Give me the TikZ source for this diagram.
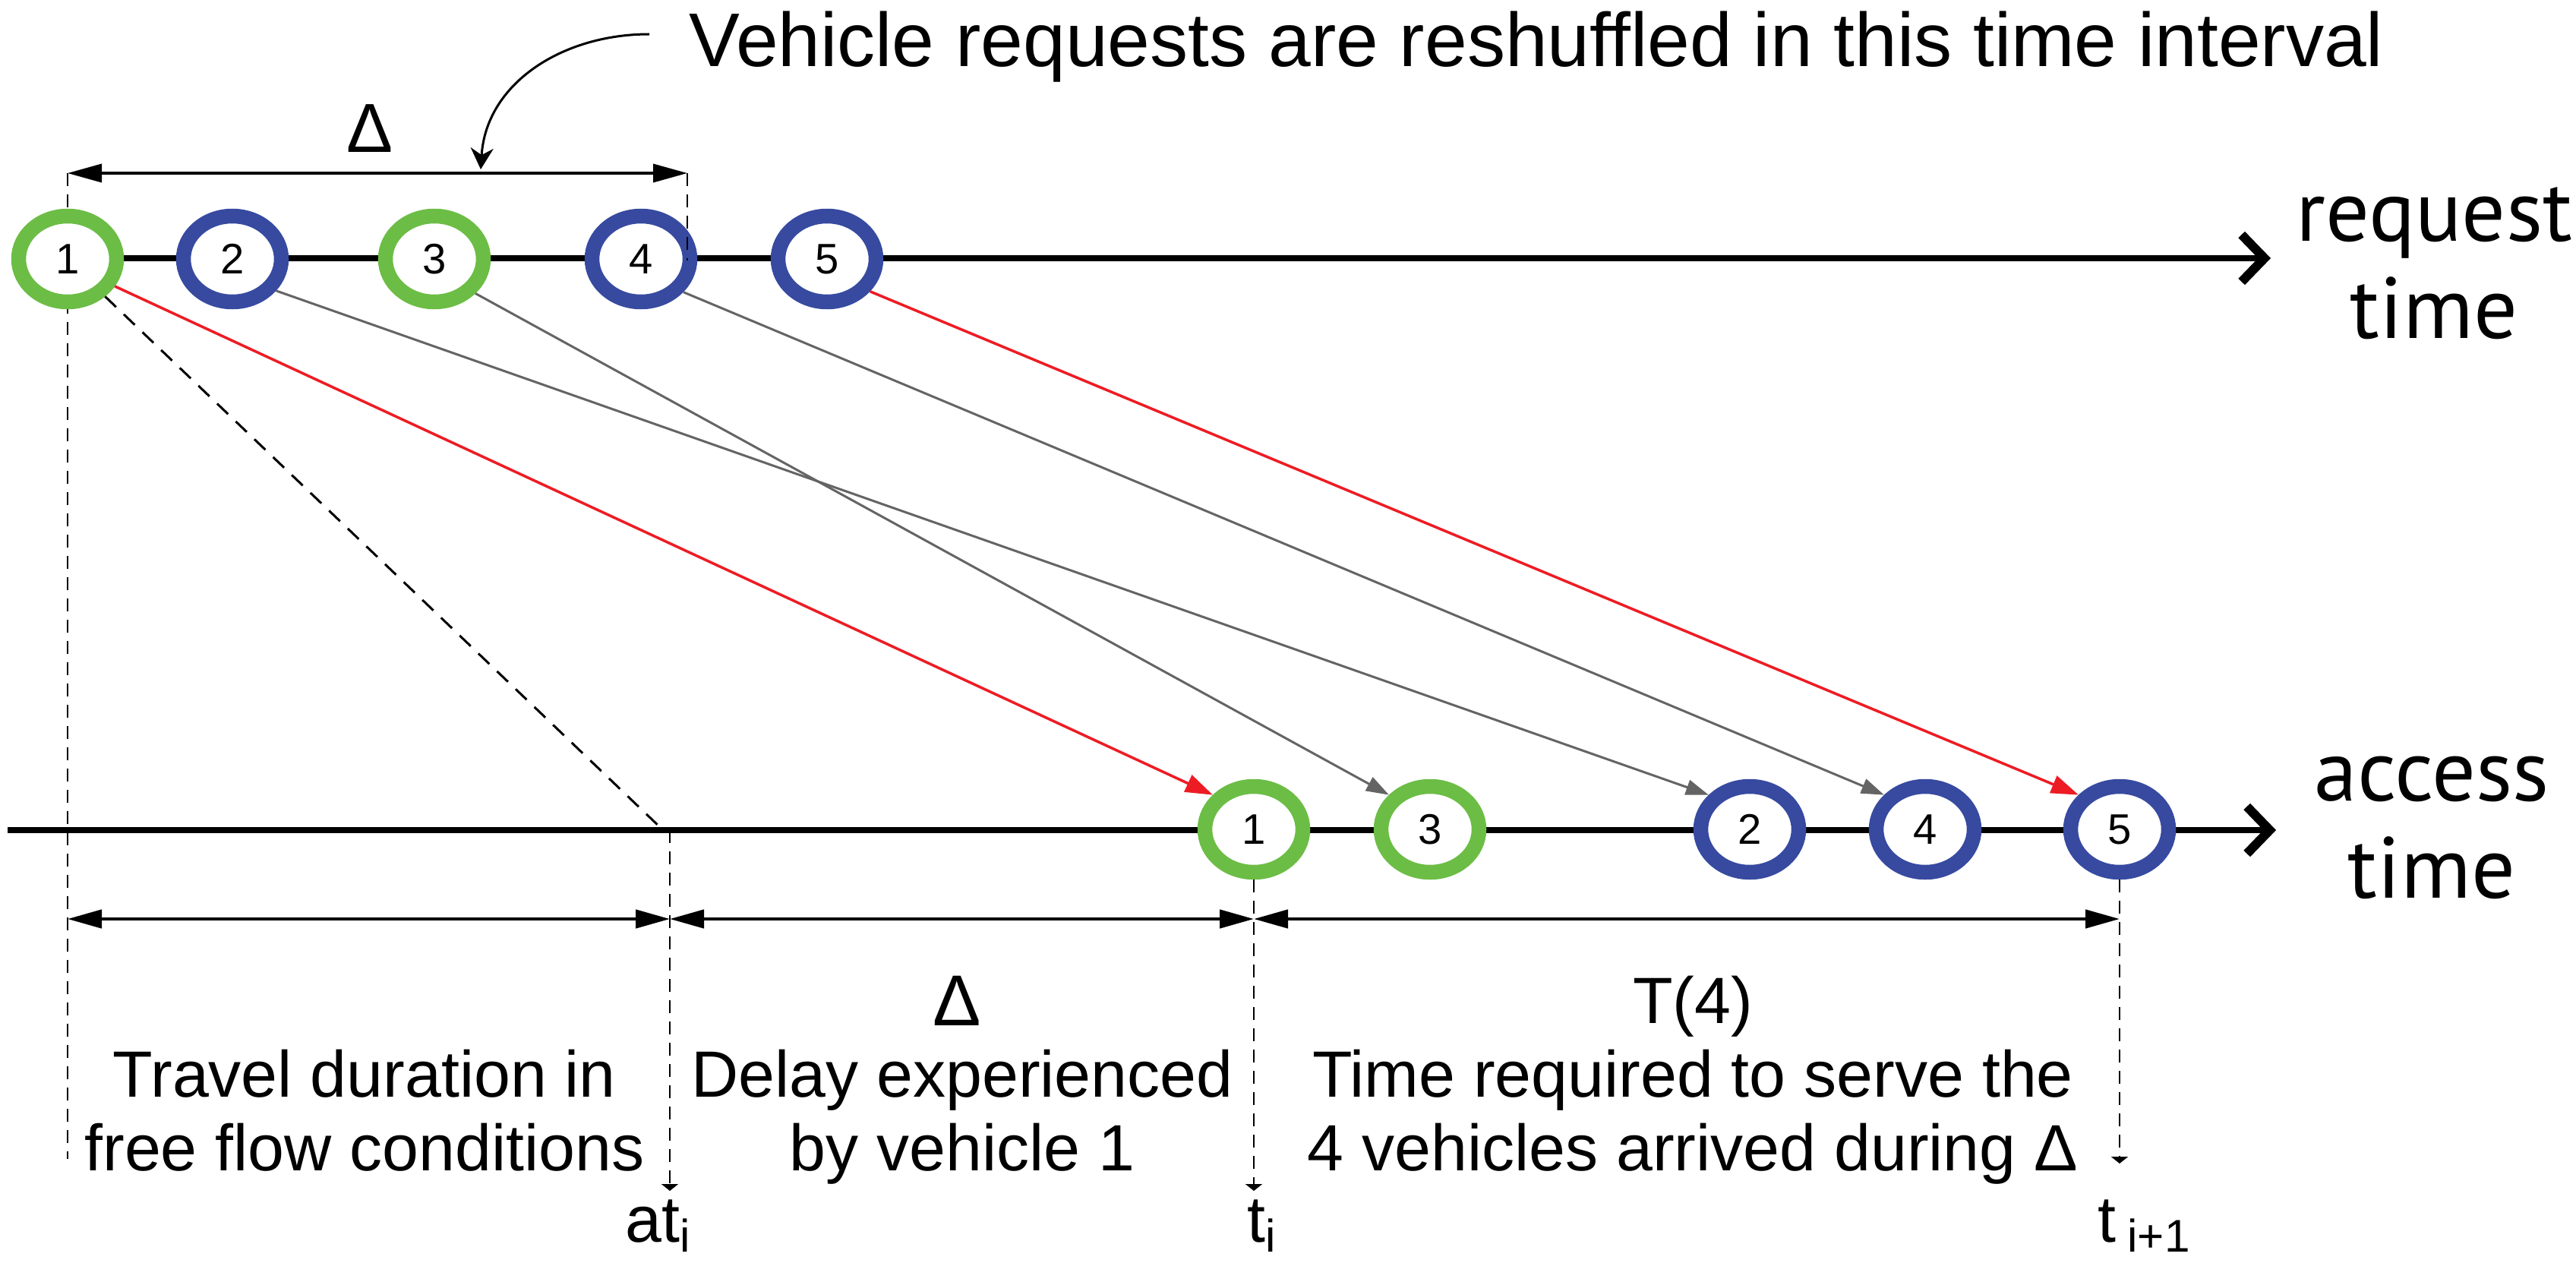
\documentclass[tikz,border=0pt]{standalone}
\usepackage{fontspec}
\setmainfont{Liberation Sans}
\newfontfamily\axisfont{PT Sans}
\usetikzlibrary{positioning,shapes.geometric,arrows.meta}
\definecolor{vehgreen}{RGB}{108,189,69}
\definecolor{vehblue}{RGB}{55,74,160}
\definecolor{reqred}{RGB}{237,28,36}
\definecolor{reqgray}{RGB}{100,100,100}

\begin{document}
\begin{tikzpicture}[
  veh/.style = {ellipse, minimum width = 1.29cm, minimum height = 1.13cm, inner sep = 0pt,
    line width = 0.195cm, fill = white, font = \fontsize{16}{16}\selectfont},
  greenveh/.style = {veh, draw = vehgreen},
  blueveh/.style = {veh, draw = vehblue},
  timeaxis/.style = {line width = 0.075cm, -{Straight Barb[length = 0.3cm, width = 0.62cm, line width = 0.12cm]}},
  redreq/.style = {line width = 0.035cm, draw = reqred, -{Triangle[length = 0.36cm, width = 0.24cm]}},
  grayreq/.style = {line width = 0.03cm, draw = reqgray, -{Triangle[length = 0.3cm, width = 0.2cm]}},
  guideline/.style = {dash pattern = on 0.17cm off 0.11cm, line width = 0.02cm},
  guidearrow/.style = {guideline, -{Triangle[length = 0.09cm, width = 0.22cm]}},
  spanarrow/.style = {line width = 0.045cm,
    {Triangle[length = 0.45cm, width = 0.24cm]}-{Triangle[length = 0.45cm, width = 0.24cm]}},
  bodytext/.style = {font = \fontsize{24.5}{27.5}\selectfont, align = center},
  axislabel/.style = {font = \axisfont\fontsize{32.5}{36.4}\selectfont, align = center}
]
  \useasboundingbox (0, 0) rectangle (33.92, -16.63);

  \coordinate (rstart) at (0.89, -3.40);
  \coordinate (rend) at (29.90, -3.40);
  \coordinate (astart) at (0.10, -10.93);
  \coordinate (aend) at (29.97, -10.93);
  \coordinate (leftup) at (0.89, -2.28);
  \coordinate (leftdown) at (0.89, -15.26);

  \draw[guideline] (leftup) -- (leftdown);
  \draw[timeaxis] (rstart) -- (rend);
  \draw[timeaxis] (astart) -- (aend);

  \node[greenveh] (r1) at (0.89, -3.41) {1};
  \node[blueveh] (r2) at (3.06, -3.41) {2};
  \node[greenveh] (r3) at (5.72, -3.41) {3};
  \node[blueveh] (r4) at (8.44, -3.41) {4};
  \node[blueveh] (r5) at (10.89, -3.41) {5};

  \node[greenveh] (a1) at (16.51, -10.92) {1};
  \node[greenveh] (a3) at (18.83, -10.92) {3};
  \node[blueveh] (a2) at (23.04, -10.92) {2};
  \node[blueveh] (a4) at (25.35, -10.92) {4};
  \node[blueveh] (a5) at (27.91, -10.92) {5};

  \draw[redreq] (r1.-30) -- (a1.140);
  \draw[grayreq] (r2.-36) -- (a2.140);
  \draw[grayreq] (r3.-40) -- (a3.140);
  \draw[grayreq] (r4.-38) -- (a4.140);
  \draw[redreq] (r5.-37) -- (a5.140);

  \coordinate (freeend) at (8.70, -10.90);
  \draw[dash pattern = on 0.2cm off 0.14cm, line width = 0.03cm] (r1.-45) -- (freeend);

  \coordinate (windowup) at (9.05, -2.28);
  \coordinate (windowdown) at (9.05, -3.43);
  \draw[guideline] (windowup) -- (windowdown);

  \coordinate (attop) at (8.82, -10.93);
  \coordinate (atbot) at (8.82, -15.68);
  \coordinate (tibot) at (16.51, -15.68);
  \coordinate (tnextbot) at (27.91, -15.32);
  \draw[guidearrow] (attop) -- (atbot);
  \draw[guidearrow] (a1.south) -- (tibot);
  \draw[guidearrow] (a5.south) -- (tnextbot);

  \coordinate (m0) at (0.89, -12.10);
  \coordinate (m1) at (8.82, -12.10);
  \coordinate (m2) at (16.51, -12.10);
  \coordinate (m3) at (27.91, -12.10);
  \draw[spanarrow] (m0) -- (m1);
  \draw[spanarrow] (m1) -- (m2);
  \draw[spanarrow] (m2) -- (m3);

  \coordinate (w0) at (0.89, -2.28);
  \coordinate (w1) at (9.05, -2.28);
  \draw[spanarrow, line width = 0.035cm] (w0) -- (w1);

  \node[font = \fontsize{26}{26}\selectfont] (windowdelta) at (4.87, -1.69) {Δ};

  \node[anchor = base west, inner sep = 0pt, font = \fontsize{28.5}{34}\selectfont] (reshuffle)
    at (9.07, -0.88) {Vehicle requests are reshuffled in this time interval};
  \coordinate (curvestart) at (8.55, -0.45);
  \coordinate (curveend) at (6.33, -2.23);
  \draw[line width = 0.03cm, -{Stealth[length = 0.28cm, width = 0.3cm]}]
    (curvestart) .. controls (7.4, -0.45) and (6.4, -1.1) .. (curveend);

  \node[axislabel, anchor = base] (reqlabel) at (32.05, -4.45) {request\\time};
  \node[axislabel, anchor = base] (acclabel) at (32.02, -11.82) {access\\time};

  \node[bodytext, anchor = base] (freeflow) at (4.80, -15.41) {Travel duration in\\free flow conditions};
  \node[font = \fontsize{27}{27}\selectfont, anchor = base] (delaydelta) at (12.60, -13.50) {Δ};
  \node[bodytext, anchor = base] (delay) at (12.67, -15.41) {Delay experienced\\by vehicle 1};
  \node[bodytext, anchor = base] (servetime) at (22.29, -13.47) {T(4)};
  \node[bodytext, anchor = base] (serve) at (22.29, -15.41) {Time required to serve the\\4 vehicles arrived during Δ};

  \node[bodytext, anchor = base] (ati) at (8.67, -16.35) {at\textsubscript{i}};
  \node[bodytext, anchor = base] (ti) at (16.62, -16.35) {t\textsubscript{i}};
  \node[bodytext, anchor = base] (tnext) at (28.24, -16.35) {t\hspace{0.15cm}\textsubscript{i+1}};
\end{tikzpicture}
\end{document}
